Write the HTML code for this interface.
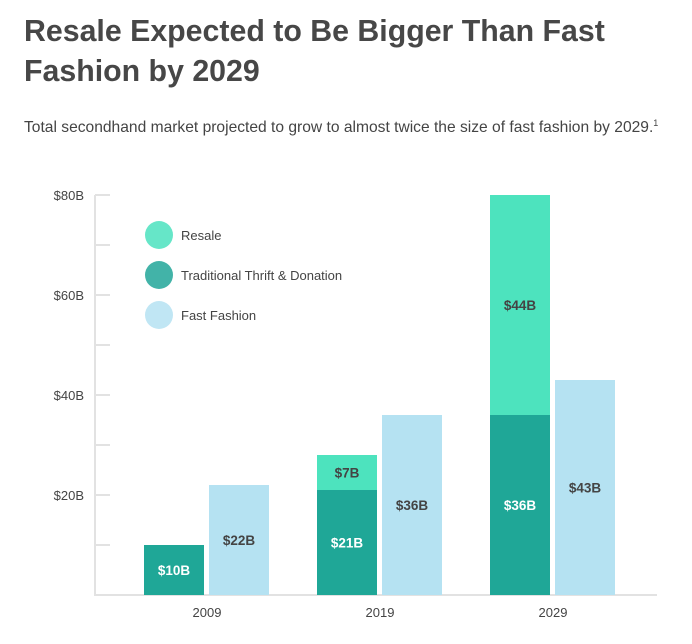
<!DOCTYPE html>
<html><head><meta charset="utf-8"><style>
body{margin:0;width:692px;height:644px;background:#fff;font-family:"Liberation Sans",sans-serif;color:#444;overflow:hidden;position:relative}
h1{position:absolute;left:24px;top:12px;margin:0;font-size:30.3px;line-height:40px;font-weight:bold;color:#474747}
p{position:absolute;left:24px;top:118px;margin:0;font-size:15.6px;color:#444;white-space:nowrap}
sup{font-size:9px}
svg{position:absolute;left:0;top:0}
</style></head><body>
<h1>Resale Expected to Be Bigger Than Fast<br>Fashion by 2029</h1>
<p>Total secondhand market projected to grow to almost twice the size of fast fashion by 2029.<sup>1</sup></p>
<svg id="c" width="692" height="644"></svg>
<script>
const years=["2009","2019","2029"];
const thrift=[10,21,36];
const resale=[0,7,44];
const fast=[22,36,43];
const yTicks=[0,10,20,30,40,50,60,70,80];
const yLabels={20:"$20B",40:"$40B",60:"$60B",80:"$80B"};
const NS="http://www.w3.org/2000/svg",svg=document.getElementById("c");
const y=v=>595-v*5;
const gx=i=>144+i*173;
function mk(t,a,txt){const e=document.createElementNS(NS,t);for(const k in a)e.setAttribute(k,a[k]);if(txt!==undefined)e.textContent=txt;svg.appendChild(e);return e;}
let e=mk("line",{x1:95,y1:195,x2:95,y2:596,stroke:"#e2e2e2","stroke-width":2});

yTicks.forEach(v=>{
  let t=mk("line",{x1:95,x2:110,y1:y(v),y2:y(v),stroke:"#e2e2e2","stroke-width":2});
  
  if(yLabels[v]){let l=mk("text",{x:84,y:y(v)+5,"text-anchor":"end","font-size":13,fill:"#444"},yLabels[v]);
  }
});
e=mk("line",{x1:95,y1:595,x2:657,y2:595,stroke:"#e2e2e2","stroke-width":2});

years.forEach((yr,i)=>{
  const x=gx(i);
  let b=mk("rect",{x:x,y:y(thrift[i]),width:60,height:thrift[i]*5,fill:"#1fa797"});
  
  let t=mk("text",{x:x+30,y:y(thrift[i]/2)+5,"text-anchor":"middle","font-size":13.5,"font-weight":"bold",fill:"#fff"},"$"+thrift[i]+"B");
  
  if(resale[i]>0){
    let r=mk("rect",{x:x,y:y(thrift[i]+resale[i]),width:60,height:resale[i]*5,fill:"#4de3be"});
    
    let rt=mk("text",{x:x+30,y:y(thrift[i]+resale[i]/2)+5,"text-anchor":"middle","font-size":13.5,"font-weight":"bold",fill:"#444"},"$"+resale[i]+"B");
    
  }
  let f=mk("rect",{x:x+65,y:y(fast[i]),width:60,height:fast[i]*5,fill:"#b5e2f2"});
  
  let ft=mk("text",{x:x+95,y:y(fast[i]/2)+5,"text-anchor":"middle","font-size":13.5,"font-weight":"bold",fill:"#444"},"$"+fast[i]+"B");
  
  let xl=mk("text",{x:x+63,y:617,"text-anchor":"middle","font-size":13,fill:"#444"},yr);
  
});
const legNames=["Resale","Traditional Thrift & Donation","Fast Fashion"];
const legCols=["#66e6c8","#42b3a8","#c0e6f4"];
legNames.forEach((n,i)=>{
  let c=mk("circle",{cx:159,cy:235+i*40,r:14,fill:legCols[i]});
  
  let t=mk("text",{x:181,y:240+i*40,"font-size":13,fill:"#444"},n);
  
});
</script>
</body></html>
